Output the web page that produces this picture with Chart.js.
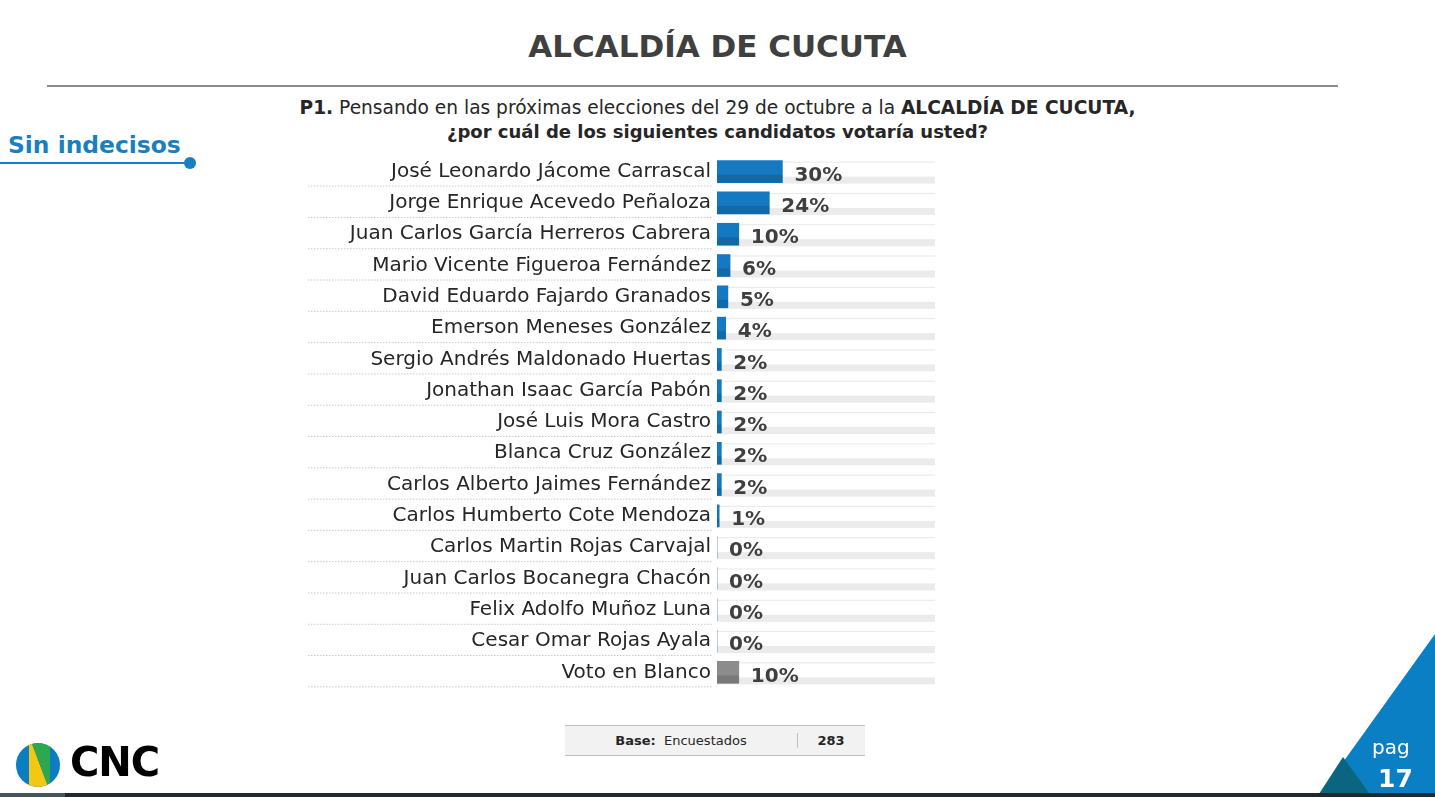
<!DOCTYPE html>
<html>
<head>
<meta charset="utf-8">
<script src="https://cdn.jsdelivr.net/npm/chart.js@4"></script>
<style>
  body { margin: 0; width: 1435px; height: 797px; background: #fff; position: relative; overflow: hidden; font-family: 'DejaVu Sans', sans-serif; }
  .abs { position: absolute; }
  #title { left: 0; width: 1435px; top: 28px; text-align: center; font-size: 31px; font-weight: bold; color: #404040; }
  #rule { left: 47px; top: 85px; width: 1291px; height: 2px; background: #8c8c8c; }
  #question { left: 0; width: 1435px; top: 96px; text-align: center; font-size: 18.6px; color: #262626; line-height: 24px; }
  #question .q2 { font-size: 18px; }
  #sin { left: 8px; top: 131px; font-size: 23.4px; font-weight: bold; color: #1a7fc1; }
  #sinline { left: 0; top: 162px; width: 190px; height: 2px; background: #1a7fc1; }
  #sindot { left: 184px; top: 157px; width: 12px; height: 12px; border-radius: 50%; background: #1a7fc1; }
  #base { left: 565px; top: 725px; width: 300px; height: 29px; background: #f2f2f2; border-top: 1px solid #bfbfbf; border-bottom: 1px solid #bfbfbf; font-size: 13px; color: #262626; }
  #base .l { position: absolute; left: 0; width: 232px; top: 7px; text-align: center; border-right: 1px solid #bfbfbf; height: 15px; }
  #base .r { position: absolute; left: 232px; width: 68px; top: 7px; text-align: center; font-weight: bold; }
  #cnc { left: 70px; top: 739px; font-size: 40px; font-weight: bold; color: #000; letter-spacing: -1px; }
  #bottombar { left: 0; top: 793px; width: 1435px; height: 4px; background: #1f2a30; }
  #bottombar2 { left: 0; top: 793px; width: 65px; height: 4px; background: #46555c; }
  #pag { left: 1372px; top: 735px; font-size: 20px; color: #fff; }
  #num { left: 1378px; top: 764px; font-size: 25px; font-weight: bold; color: #fff; }
</style>
</head>
<body>
<div id="title" class="abs">ALCALDÍA DE CUCUTA</div>
<div id="rule" class="abs"></div>
<div id="question" class="abs"><b>P1.</b> Pensando en las próximas elecciones del 29 de octubre a la <b>ALCALDÍA DE CUCUTA,</b><br><b class="q2">¿por cuál de los siguientes candidatos votaría usted?</b></div>
<div id="sin" class="abs">Sin indecisos</div>
<div id="sinline" class="abs"></div>
<div id="sindot" class="abs"></div>

<canvas id="deco" class="abs" width="1435" height="797" style="left:0;top:0"></canvas>
<canvas id="myChart" class="abs" width="700" height="552" style="left:300px;top:146px"></canvas>

<div id="base" class="abs"><div class="l"><b>Base:</b>&nbsp; Encuestados</div><div class="r">283</div></div>
<div id="cnc" class="abs">CNC</div>
<div id="pag" class="abs">pag</div>
<div id="num" class="abs">17</div>
<div id="bottombar" class="abs"></div>
<div id="bottombar2" class="abs"></div>

<script>
var candidates = ['José Leonardo Jácome Carrascal', 'Jorge Enrique Acevedo Peñaloza', 'Juan Carlos García Herreros Cabrera',
  'Mario Vicente Figueroa Fernández', 'David Eduardo Fajardo Granados', 'Emerson Meneses González',
  'Sergio Andrés Maldonado Huertas', 'Jonathan Isaac García Pabón', 'José Luis Mora Castro',
  'Blanca Cruz González', 'Carlos Alberto Jaimes Fernández', 'Carlos Humberto Cote Mendoza',
  'Carlos Martin Rojas Carvajal', 'Juan Carlos Bocanegra Chacón', 'Felix Adolfo Muñoz Luna',
  'Cesar Omar Rojas Ayala', 'Voto en Blanco'];
var percents = [30, 24, 10, 6, 5, 4, 2, 2, 2, 2, 2, 1, 0, 0, 0, 0, 10];
var trackMax = 100;

// page decorations: logo circle and corner triangles
var d = document.getElementById('deco').getContext('2d');
d.save();
d.beginPath(); d.arc(38, 765, 22, 0, Math.PI * 2); d.clip();
d.fillStyle = '#0b7dc3'; d.fillRect(14, 741, 48, 48);
d.fillStyle = '#f2c811';
d.beginPath(); d.moveTo(29, 741); d.lineTo(31, 741); d.lineTo(49, 789); d.lineTo(29, 789); d.closePath(); d.fill();
d.fillStyle = '#2ea84f';
d.beginPath(); d.moveTo(31, 741); d.lineTo(50, 741); d.lineTo(50, 789); d.lineTo(49, 789); d.closePath(); d.fill();
d.restore();
d.fillStyle = '#0a7fc4';
d.beginPath(); d.moveTo(1318, 797); d.lineTo(1435, 634); d.lineTo(1435, 797); d.closePath(); d.fill();
d.fillStyle = '#0b6580';
d.beginPath(); d.moveTo(1317, 797); d.lineTo(1343, 757); d.lineTo(1372, 797); d.closePath(); d.fill();

var rowDeco = {
  id: 'rowDeco',
  beforeDatasetsDraw: function(chart) {
    var c = chart.ctx, xs = chart.scales.x, ys = chart.scales.y;
    var x0 = xs.getPixelForValue(0), x1 = xs.getPixelForValue(trackMax);
    c.save();
    candidates.forEach(function(n, i) {
      var y = ys.getPixelForValue(i) + 1;
      c.fillStyle = '#e8e8e8';
      c.fillRect(x0, y - 11, x1 - x0, 1);
      c.fillStyle = '#ebebeb';
      c.fillRect(x0, y + 4, x1 - x0, 7);
      c.strokeStyle = '#c9c9c9';
      c.setLineDash([1.5, 1.5]);
      c.lineWidth = 1;
      c.beginPath(); c.moveTo(8, y + 13.5); c.lineTo(x0 - 4, y + 13.5); c.stroke();
    });
    c.restore();
  },
  afterDatasetsDraw: function(chart) {
    var c = chart.ctx;
    var meta = chart.getDatasetMeta(0);
    c.save();
    meta.data.forEach(function(el, i) {
      c.fillStyle = 'rgba(0,0,0,0.13)';
      c.fillRect(el.base, el.y + 3, el.x - el.base, el.height / 2 - 3);
      c.fillStyle = '#3f3f3f';
      c.font = 'bold 20px "DejaVu Sans"';
      c.textAlign = 'left';
      c.textBaseline = 'middle';
      c.fillText(percents[i] + '%', el.x + 12, el.y + 4);
    });
    c.restore();
  }
};

var ctx = document.getElementById('myChart').getContext('2d');
var myChart = new Chart(ctx, {
  type: 'bar',
  data: {
    labels: candidates,
    datasets: [{
      data: percents,
      backgroundColor: function(context) {
        return candidates[context.dataIndex] === 'Voto en Blanco' ? '#8c8c8c' : '#1479c0';
      },
      barThickness: 22
    }]
  },
  options: {
    indexAxis: 'y',
    responsive: false,
    animation: false,
    layout: { padding: { top: 4, bottom: 6, right: 65, left: 0 } },
    plugins: { legend: { display: false }, tooltip: { enabled: false } },
    scales: {
      x: { display: false, min: 0, max: trackMax },
      y: {
        grid: { display: false },
        border: { display: false },
        ticks: {
          color: '#262626',
          padding: -2,
          font: { family: 'DejaVu Sans', size: 20 }
        },
        afterFit: function(scale) { scale.width = 417; }
      }
    }
  },
  plugins: [rowDeco]
});
</script>
</body>
</html>
